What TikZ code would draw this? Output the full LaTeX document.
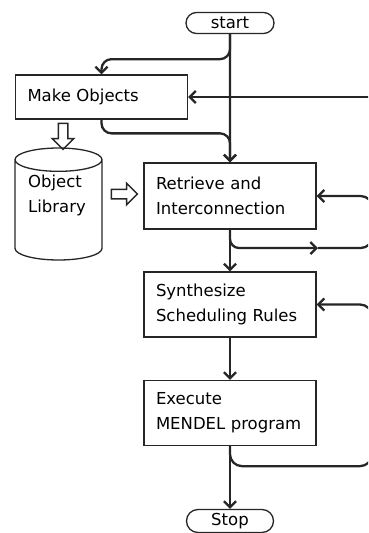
\documentclass[tikz,border=0pt]{standalone}
\usepackage{fontspec}
\setmainfont{DejaVu Sans}
\usetikzlibrary{shapes.geometric, shapes.misc, shapes.arrows, arrows.meta, calc}

\begin{document}
\begin{tikzpicture}[
    x=1pt, y=-1pt,
    font=\fontsize{16.5}{25}\selectfont,
    box/.style={rectangle, draw=black!85, line width=1.3pt, text width=148pt, align=left, inner sep=0pt, minimum width=172pt},
    term/.style={rounded rectangle, draw=black!85, line width=1.3pt, inner sep=0pt, minimum width=88pt, minimum height=21pt},
    store/.style={cylinder, shape border rotate=90, draw=black!85, line width=1.3pt, aspect=3.5, anchor=shape center},
    blockarrow/.style={single arrow, draw=black!85, line width=1.5pt, inner sep=4pt, single arrow head extend=6pt, minimum height=26pt},
    flow/.style={draw=black!85, line width=2.3pt, -{Straight Barb[length=6pt, width=12pt]}}
    ]
    \path[use as bounding box, clip] (0,0) rectangle (368,533);

    %Nodes
    \node[term] at (230, 23) (start) {start};
    \node[box, minimum height=44pt] at (101.5, 97) (make) {Make Objects};
    \node[store, minimum width=87pt, minimum height=112pt] at (58.5, 204) (lib) {};
    \node[align=left, inner sep=0pt] at (57, 195) (libtext) {Object\\Library};
    \node[blockarrow, shape border rotate=270] at (63, 134) (down) {};
    \node[blockarrow] at (122, 194) (right) {};
    \node[box, minimum height=66pt] at (230, 196) (retr) {Retrieve and\\Interconnection};
    \node[box, minimum height=65pt] at (230, 304.5) (synth) {Synthesize\\Scheduling Rules};
    \node[box, minimum height=65pt] at (230, 413) (exec) {Execute\\MENDEL program};
    \node[term, minimum width=87pt, minimum height=23pt] at (230, 521) (stop) {Stop};

    \coordinate (ext) at (372, 97);
    \coordinate (rmid) at (318, 248);

    %Lines
    \draw[flow] (start) -- (retr);
    \draw[flow, rounded corners=10pt] (start.south) -- ++(0,25) -| (make.north);
    \draw[flow, rounded corners=10pt] (make.south) |- ($(retr.north)+(0,-29)$) -- (retr.north);
    \draw[flow] (ext) -- (make.east);

    \draw[flow, rounded corners=9pt] (retr.south) |- (rmid);
    \draw[flow, rounded corners=12pt] (rmid) -| ($(retr.east)+(56,0)$) -- (retr.east);
    \draw[flow] (retr) -- (synth);

    \draw[flow] (synth) -- (exec);
    \draw[flow] (exec) -- (stop);
    \draw[flow, rounded corners=12pt] (exec.south) |- ($(exec.south)+(142,20)$) |- (synth.east);
\end{tikzpicture}
\end{document}
